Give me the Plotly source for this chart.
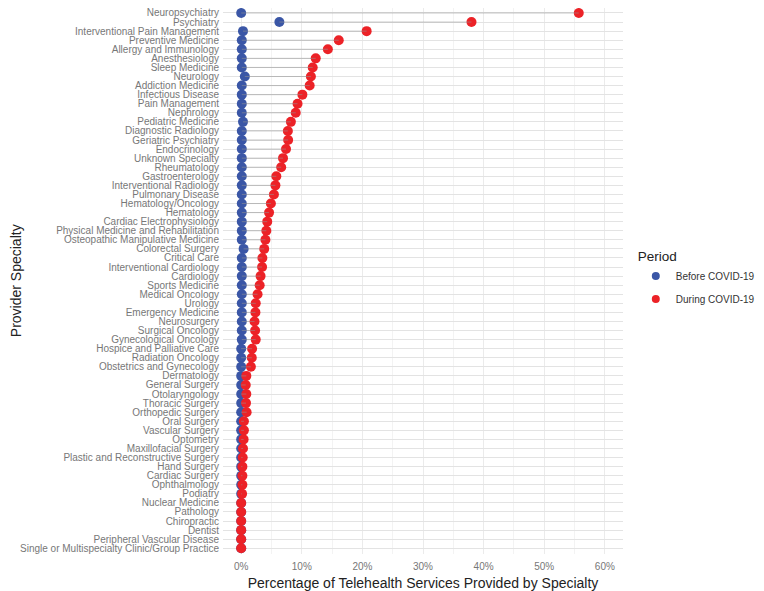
import plotly.graph_objects as go

specialties = [
    "Neuropsychiatry", "Psychiatry", "Interventional Pain Management", "Preventive Medicine",
    "Allergy and Immunology", "Anesthesiology", "Sleep Medicine", "Neurology",
    "Addiction Medicine", "Infectious Disease", "Pain Management", "Nephrology",
    "Pediatric Medicine", "Diagnostic Radiology", "Geriatric Psychiatry", "Endocrinology",
    "Unknown Specialty", "Rheumatology", "Gastroenterology", "Interventional Radiology",
    "Pulmonary Disease", "Hematology/Oncology", "Hematology", "Cardiac Electrophysiology",
    "Physical Medicine and Rehabilitation", "Osteopathic Manipulative Medicine",
    "Colorectal Surgery", "Critical Care", "Interventional Cardiology", "Cardiology",
    "Sports Medicine", "Medical Oncology", "Urology", "Emergency Medicine", "Neurosurgery",
    "Surgical Oncology", "Gynecological Oncology", "Hospice and Palliative Care",
    "Radiation Oncology", "Obstetrics and Gynecology", "Dermatology", "General Surgery",
    "Otolaryngology", "Thoracic Surgery", "Orthopedic Surgery", "Oral Surgery",
    "Vascular Surgery", "Optometry", "Maxillofacial Surgery",
    "Plastic and Reconstructive Surgery", "Hand Surgery", "Cardiac Surgery",
    "Ophthalmology", "Podiatry", "Nuclear Medicine", "Pathology", "Chiropractic",
    "Dentist", "Peripheral Vascular Disease",
    "Single or Multispecialty Clinic/Group Practice",
]

before_covid = [
    0.0, 6.3, 0.3, 0.1, 0.1, 0.1, 0.1, 0.6, 0.1, 0.1, 0.1, 0.1,
    0.3, 0.1, 0.1, 0.1, 0.1, 0.1, 0.1, 0.1, 0.1, 0.1, 0.1, 0.1,
    0.1, 0.1, 0.4, 0.1, 0.1, 0.1, 0.1, 0.1, 0.1, 0.1, 0.1, 0.1,
    0.1, 0.0, 0.0, 0.0, 0.0, 0.0, 0.0, 0.0, 0.0, 0.0, 0.0, 0.0,
    0.0, 0.0, 0.0, 0.0, 0.0, 0.0, 0.0, 0.0, 0.0, 0.0, 0.0, 0.0,
]

during_covid = [
    55.7, 38.0, 20.7, 16.1, 14.3, 12.3, 11.8, 11.5, 11.3, 10.1, 9.3, 9.0,
    8.2, 7.7, 7.75, 7.4, 6.9, 6.6, 5.8, 5.65, 5.4, 4.9, 4.6, 4.3,
    4.15, 4.0, 3.8, 3.5, 3.45, 3.2, 3.05, 2.7, 2.4, 2.35, 2.2, 2.3,
    2.4, 1.8, 1.75, 1.6, 0.85, 0.75, 0.85, 0.8, 0.9, 0.45, 0.45, 0.4,
    0.3, 0.25, 0.2, 0.2, 0.2, 0.15, 0.0, 0.0, 0.0, 0.0, 0.0, 0.0,
]

x_ticks = [0, 10, 20, 30, 40, 50, 60]
x_tick_labels = ["0%", "10%", "20%", "30%", "40%", "50%", "60%"]

blue = "#3A56A6"
red = "#EC2227"
font = "Liberation Sans, Arial, sans-serif"

seg_x, seg_y = [], []
for s, b, d in zip(specialties, before_covid, during_covid):
    seg_x += [b, d, None]
    seg_y += [s, s, None]

fig = go.Figure()
fig.add_trace(go.Scatter(
    x=before_covid, y=specialties, mode="markers", name="Before COVID-19",
    showlegend=False, cliponaxis=False,
    marker=dict(color=blue, size=10, line=dict(width=0)),
))
fig.add_trace(go.Scatter(
    x=during_covid, y=specialties, mode="markers", name="During COVID-19",
    showlegend=False, cliponaxis=False,
    marker=dict(color=red, size=10, line=dict(width=0)),
))
fig.add_trace(go.Scatter(
    x=seg_x, y=seg_y, mode="lines", showlegend=False, hoverinfo="skip",
    cliponaxis=False,
    line=dict(color="rgba(150,150,150,0.55)", width=1),
))
# legend entries (smaller symbols, like the reference key)
fig.add_trace(go.Scatter(
    x=[None], y=[None], mode="markers", name="Before COVID-19", legendgroup="b",
    marker=dict(color=blue, size=8),
))
fig.add_trace(go.Scatter(
    x=[None], y=[None], mode="markers", name="During COVID-19", legendgroup="d",
    marker=dict(color=red, size=8),
))

fig.update_layout(
    width=756, height=583,
    margin=dict(l=215, r=141, t=0, b=37),
    paper_bgcolor="white", plot_bgcolor="white",
    font=dict(family=font, size=10, color="#333333"),
    showlegend=True,
    legend=dict(
        title=dict(text="Period", font=dict(size=13.5, color="#222222")),
        x=1.032, xanchor="left", y=0.568, yanchor="top",
        font=dict(size=10, color="#333333"),
        tracegroupgap=4, itemsizing="trace",
        bgcolor="rgba(0,0,0,0)",
    ),
    xaxis=dict(
        range=[-3, 63], tickvals=x_ticks, ticktext=x_tick_labels,
        showgrid=True, gridcolor="#EBEBEB", gridwidth=1,
        minor=dict(dtick=5, tick0=0, showgrid=True, gridcolor="#F3F3F3", gridwidth=0.6),
        zeroline=False, showline=False, ticks="", automargin=False,
        tickfont=dict(size=10, color="#777777"),
        ticklabelstandoff=5,
        title=dict(text="Percentage of Telehealth Services Provided by Specialty",
                   font=dict(size=14, color="#222222"), standoff=7),
    ),
    yaxis=dict(
        type="category", categoryorder="array",
        categoryarray=list(reversed(specialties)),
        tickmode="array", tickvals=specialties, ticktext=specialties,
        range=[-0.63, len(specialties) - 1 + 0.55],
        showgrid=True, gridcolor="#E3E3E3", gridwidth=1,
        zeroline=False, showline=False, ticks="", automargin=False,
        tickfont=dict(size=10, color="#777777"),
        ticklabelstandoff=3,
    ),
    annotations=[dict(
        text="Provider Specialty", textangle=-90, showarrow=False,
        xref="paper", yref="paper", x=-0.517, y=0.5, xanchor="center", yanchor="middle",
        font=dict(size=14, color="#222222"),
    )],
)

fig.write_html("out.html")
